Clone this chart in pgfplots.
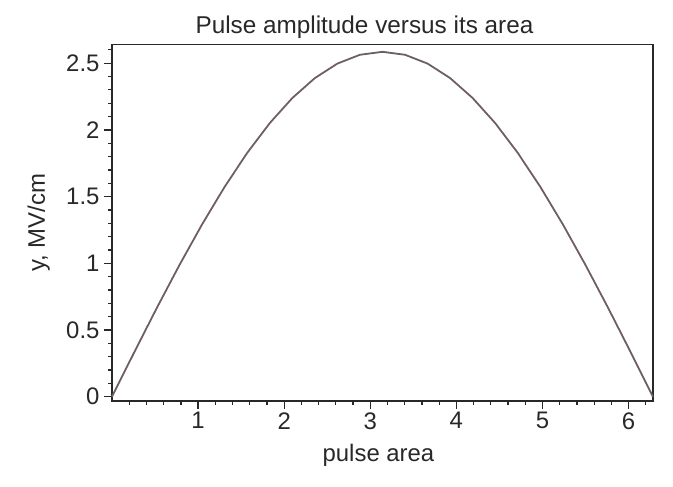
\documentclass[border=0pt]{standalone}
\usepackage{pgfplots}
\pgfplotsset{compat=1.18}
\usepackage{fontspec}
\setmainfont{Liberation Sans}
\definecolor{curve}{RGB}{110,94,96}
\definecolor{axcol}{RGB}{40,40,40}
\begin{document}
\begin{tikzpicture}
\begin{axis}[
  scale only axis,
  width=541bp, height=356.5bp,
  xmin=0, xmax=6.2832,
  ymin=-0.032, ymax=2.64,
  axis line style={axcol, line width=1.5pt},
  tick style={axcol, line width=1.3pt},
  tick align=outside,
  xtick pos=left, ytick pos=left,
  xtick={1,2,3,4,5,6},
  ytick={0,0.5,1,1.5,2,2.5},
  yticklabels={0,0.5,1,1.5,2,2.5},
  minor xtick={0.2,0.4,0.6,0.8,1.2,1.4,1.6,1.8,2.2,2.4,2.6,2.8,3.2,3.4,3.6,3.8,4.2,4.4,4.6,4.8,5.2,5.4,5.6,5.8,6.2},
  minor ytick={0.1,0.2,0.3,0.4,0.6,0.7,0.8,0.9,1.1,1.2,1.3,1.4,1.6,1.7,1.8,1.9,2.1,2.2,2.3,2.4,2.6},
  major tick length=8bp,
  minor tick length=4bp,
  /pgf/number format/assume math mode=true,
  ticklabel style={font=\fontsize{24}{28}\selectfont, text=axcol},
  label style={font=\fontsize{24}{28}\selectfont, text=axcol},
  xticklabel style={yshift=0bp},
  yticklabel style={xshift=-1bp},
  xlabel={pulse area},
  ylabel={y, MV/cm},
  xlabel style={at={(0.5,0)}, anchor=base, yshift=-61bp, xshift=-4bp},
  ylabel style={at={(0,0.5)}, anchor=base, rotate=0, yshift=67bp},
  title={Pulse amplitude versus its area},
  title style={font=\fontsize{24.4}{28}\selectfont, text=axcol, at={(0.5,1)}, anchor=base, yshift=5bp, xshift=-18bp},
  clip=false,
]
\addplot[curve, line width=1.8pt] coordinates {
(0,0) (0.2618,0.3374) (0.5236,0.6690) (0.7854,0.9892) (1.0472,1.2925)
(1.3090,1.5736) (1.5708,1.8279) (1.8326,2.0508) (2.0944,2.2387) (2.3562,2.3882)
(2.6180,2.4969) (2.8798,2.5629) (3.1416,2.5850) (3.4034,2.5629) (3.6652,2.4969)
(3.9270,2.3882) (4.1888,2.2387) (4.4506,2.0508) (4.7124,1.8279) (4.9742,1.5736)
(5.2360,1.2925) (5.4978,0.9892) (5.7596,0.6690) (6.0214,0.3374) (6.2832,0)
};
\coordinate (bl) at (rel axis cs:-0.207,-0.2412);
\coordinate (tr) at (rel axis cs:1.037,1.1248);
\end{axis}
\path (bl) rectangle (tr);
\end{tikzpicture}
\end{document}
